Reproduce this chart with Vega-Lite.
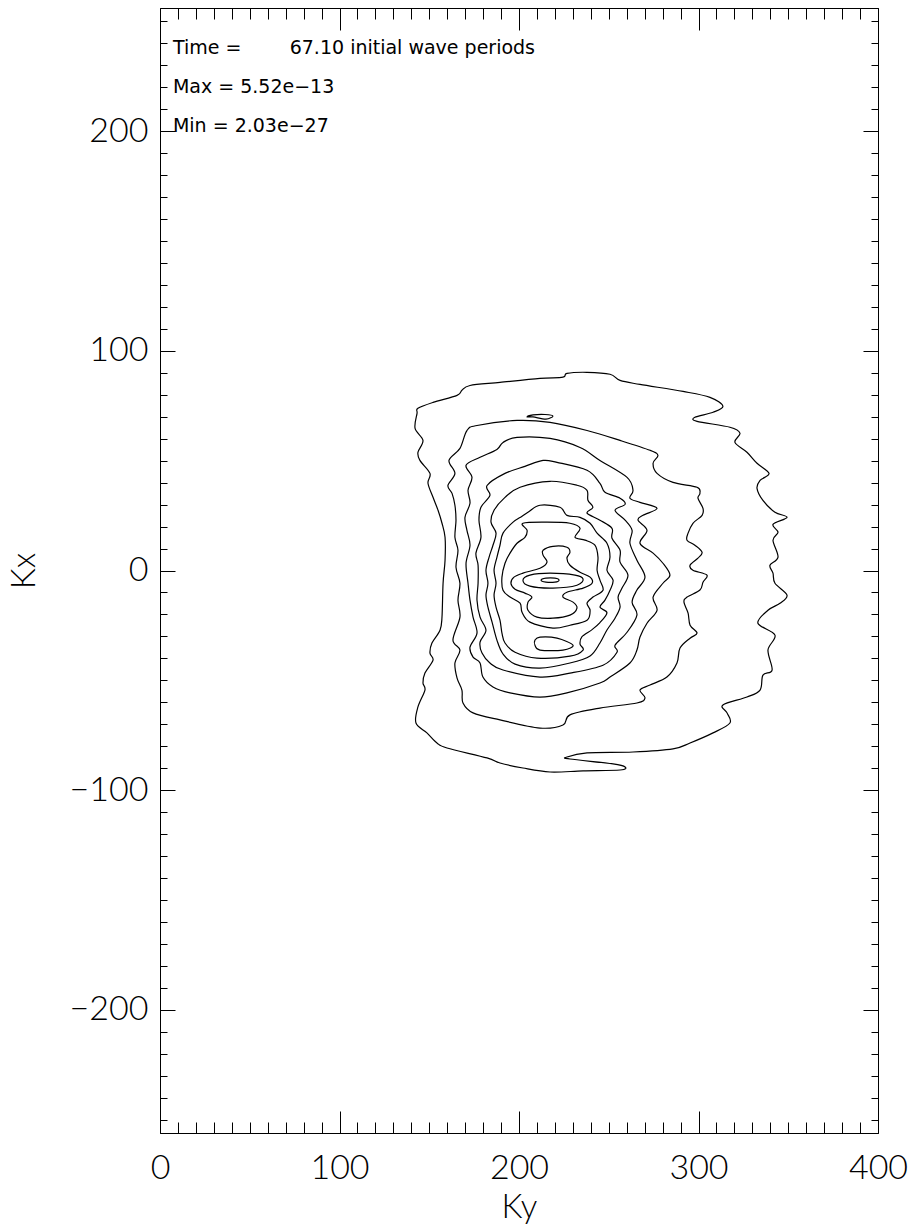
{
  "$schema": "https://vega.github.io/schema/vega-lite/v6.json",
  "width": 718,
  "height": 1125,
  "autosize": "none",
  "padding": {"left": 160, "top": 8, "right": 32, "bottom": 98},
  "background": "white",
  "config": {
    "view": {"stroke": "#000", "strokeWidth": 1},
    "axis": {
      "labelFont": "Lato", "labelFontWeight": 300, "labelFontSize": 34, "labelColor": "#000",
      "titleFont": "Lato", "titleFontWeight": 300, "titleFontSize": 33, "titleColor": "#000",
      "tickColor": "#000", "tickWidth": 1, "grid": false, "domain": false,
      "labelOverlap": false, "labelFlush": false
    }
  },
  "datasets": {
    "contours": [
      {"c":"L1","i":1,"ky":224.5,"kx":88.0},{"c":"L1","i":2,"ky":226.7,"kx":89.7},{"c":"L1","i":3,"ky":237.9,"kx":90.2},{"c":"L1","i":4,"ky":250.7,"kx":89.3},{"c":"L1","i":5,"ky":256.3,"kx":86.5},{"c":"L1","i":6,"ky":267.4,"kx":84.7},{"c":"L1","i":7,"ky":291.4,"kx":81.5},{"c":"L1","i":8,"ky":306.4,"kx":78.8},{"c":"L1","i":9,"ky":313.6,"kx":74.7},{"c":"L1","i":10,"ky":308.1,"kx":72.0},
      {"c":"L1","i":11,"ky":298.0,"kx":69.7},{"c":"L1","i":12,"ky":299.2,"kx":67.9},{"c":"L1","i":13,"ky":317.5,"kx":65.2},{"c":"L1","i":14,"ky":323.1,"kx":62.5},{"c":"L1","i":15,"ky":320.3,"kx":58.3},{"c":"L1","i":16,"ky":327.0,"kx":53.8},{"c":"L1","i":17,"ky":332.6,"kx":48.8},{"c":"L1","i":18,"ky":339.3,"kx":44.2},{"c":"L1","i":19,"ky":334.3,"kx":41.0},{"c":"L1","i":20,"ky":332.6,"kx":37.4},
      {"c":"L1","i":21,"ky":335.9,"kx":31.9},{"c":"L1","i":22,"ky":342.6,"kx":26.5},{"c":"L1","i":23,"ky":349.3,"kx":24.2},{"c":"L1","i":24,"ky":341.5,"kx":21.0},{"c":"L1","i":25,"ky":344.3,"kx":17.4},{"c":"L1","i":26,"ky":341.5,"kx":13.8},{"c":"L1","i":27,"ky":344.3,"kx":6.1},{"c":"L1","i":28,"ky":339.8,"kx":2.4},{"c":"L1","i":29,"ky":341.5,"kx":-1.2},{"c":"L1","i":30,"ky":342.6,"kx":-5.8},
      {"c":"L1","i":31,"ky":349.3,"kx":-11.2},{"c":"L1","i":32,"ky":345.4,"kx":-14.9},{"c":"L1","i":33,"ky":338.7,"kx":-18.1},{"c":"L1","i":34,"ky":333.1,"kx":-24.0},{"c":"L1","i":35,"ky":342.6,"kx":-29.4},{"c":"L1","i":36,"ky":338.7,"kx":-36.2},{"c":"L1","i":37,"ky":341.0,"kx":-45.3},{"c":"L1","i":38,"ky":335.9,"kx":-47.6},{"c":"L1","i":39,"ky":334.3,"kx":-54.4},{"c":"L1","i":40,"ky":327.0,"kx":-57.6},
      {"c":"L1","i":41,"ky":313.6,"kx":-61.2},{"c":"L1","i":42,"ky":315.9,"kx":-64.8},{"c":"L1","i":43,"ky":317.5,"kx":-69.4},{"c":"L1","i":44,"ky":308.1,"kx":-73.9},{"c":"L1","i":45,"ky":295.3,"kx":-78.5},{"c":"L1","i":46,"ky":285.8,"kx":-81.2},{"c":"L1","i":47,"ky":263.5,"kx":-82.6},{"c":"L1","i":48,"ky":237.9,"kx":-83.0},{"c":"L1","i":49,"ky":226.7,"kx":-84.9},{"c":"L1","i":50,"ky":228.4,"kx":-85.8},
      {"c":"L1","i":51,"ky":252.4,"kx":-88.0},{"c":"L1","i":52,"ky":259.1,"kx":-89.4},{"c":"L1","i":53,"ky":256.3,"kx":-90.8},{"c":"L1","i":54,"ky":235.7,"kx":-91.2},{"c":"L1","i":55,"ky":217.3,"kx":-91.7},{"c":"L1","i":56,"ky":202.2,"kx":-89.9},{"c":"L1","i":57,"ky":189.4,"kx":-87.6},{"c":"L1","i":58,"ky":182.2,"kx":-85.3},{"c":"L1","i":59,"ky":159.9,"kx":-80.8},{"c":"L1","i":60,"ky":154.3,"kx":-78.5},
      {"c":"L1","i":61,"ky":148.7,"kx":-73.9},{"c":"L1","i":62,"ky":142.6,"kx":-69.4},{"c":"L1","i":63,"ky":143.7,"kx":-62.1},{"c":"L1","i":64,"ky":147.6,"kx":-54.4},{"c":"L1","i":65,"ky":146.5,"kx":-51.2},{"c":"L1","i":66,"ky":147.6,"kx":-46.7},{"c":"L1","i":67,"ky":152.1,"kx":-40.8},{"c":"L1","i":68,"ky":150.4,"kx":-37.6},{"c":"L1","i":69,"ky":151.5,"kx":-33.0},{"c":"L1","i":70,"ky":156.0,"kx":-27.2},
      {"c":"L1","i":71,"ky":157.1,"kx":-21.2},{"c":"L1","i":72,"ky":157.7,"kx":-5.8},{"c":"L1","i":73,"ky":158.8,"kx":4.7},{"c":"L1","i":74,"ky":158.8,"kx":15.1},{"c":"L1","i":75,"ky":157.1,"kx":21.5},{"c":"L1","i":76,"ky":154.9,"kx":27.4},{"c":"L1","i":77,"ky":152.1,"kx":33.3},{"c":"L1","i":78,"ky":149.3,"kx":39.7},{"c":"L1","i":79,"ky":150.4,"kx":44.2},{"c":"L1","i":80,"ky":144.8,"kx":50.1},
      {"c":"L1","i":81,"ky":143.7,"kx":53.8},{"c":"L1","i":82,"ky":146.5,"kx":59.2},{"c":"L1","i":83,"ky":142.1,"kx":64.7},{"c":"L1","i":84,"ky":143.2,"kx":71.5},{"c":"L1","i":85,"ky":143.7,"kx":73.8},{"c":"L1","i":86,"ky":152.1,"kx":76.5},{"c":"L1","i":87,"ky":165.5,"kx":79.7},{"c":"L1","i":88,"ky":168.2,"kx":82.0},{"c":"L1","i":89,"ky":172.7,"kx":84.2},{"c":"L1","i":90,"ky":189.4,"kx":85.6},{"c":"L1","i":91,"ky":211.7,"kx":87.4},

      {"c":"I1","i":1,"ky":204.5,"kx":69.9},{"c":"I1","i":2,"ky":207.8,"kx":70.8},{"c":"I1","i":3,"ky":214.5,"kx":71.0},{"c":"I1","i":4,"ky":218.9,"kx":70.3},{"c":"I1","i":5,"ky":215.0,"kx":68.9},{"c":"I1","i":6,"ky":207.8,"kx":69.9},

      {"c":"C2","i":1,"ky":171.0,"kx":63.7},{"c":"C2","i":2,"ky":176.6,"kx":66.0},{"c":"C2","i":3,"ky":198.9,"kx":68.3},{"c":"C2","i":4,"ky":217.3,"kx":67.4},{"c":"C2","i":5,"ky":237.9,"kx":63.7},{"c":"C2","i":6,"ky":256.3,"kx":59.2},{"c":"C2","i":7,"ky":273.0,"kx":54.7},{"c":"C2","i":8,"ky":277.4,"kx":52.4},{"c":"C2","i":9,"ky":274.7,"kx":48.8},{"c":"C2","i":10,"ky":276.9,"kx":44.2},
      {"c":"C2","i":11,"ky":285.8,"kx":40.1},{"c":"C2","i":12,"ky":299.2,"kx":37.9},{"c":"C2","i":13,"ky":300.8,"kx":35.1},{"c":"C2","i":14,"ky":299.7,"kx":32.9},{"c":"C2","i":15,"ky":302.5,"kx":28.3},{"c":"C2","i":16,"ky":302.0,"kx":25.1},{"c":"C2","i":17,"ky":296.9,"kx":21.5},{"c":"C2","i":18,"ky":294.2,"kx":17.0},{"c":"C2","i":19,"ky":293.6,"kx":13.8},{"c":"C2","i":20,"ky":298.0,"kx":11.5},
      {"c":"C2","i":21,"ky":302.0,"kx":8.3},{"c":"C2","i":22,"ky":299.7,"kx":5.6},{"c":"C2","i":23,"ky":295.3,"kx":2.4},{"c":"C2","i":24,"ky":296.9,"kx":0.1},{"c":"C2","i":25,"ky":304.7,"kx":-2.1},{"c":"C2","i":26,"ky":302.5,"kx":-5.3},{"c":"C2","i":27,"ky":300.8,"kx":-8.9},{"c":"C2","i":28,"ky":293.6,"kx":-12.1},{"c":"C2","i":29,"ky":291.9,"kx":-14.4},{"c":"C2","i":30,"ky":294.2,"kx":-19.4},
      {"c":"C2","i":31,"ky":295.3,"kx":-24.9},{"c":"C2","i":32,"ky":299.2,"kx":-28.5},{"c":"C2","i":33,"ky":295.3,"kx":-30.8},{"c":"C2","i":34,"ky":289.7,"kx":-35.3},{"c":"C2","i":35,"ky":288.0,"kx":-42.1},{"c":"C2","i":36,"ky":282.4,"kx":-48.5},{"c":"C2","i":37,"ky":273.0,"kx":-52.1},{"c":"C2","i":38,"ky":267.4,"kx":-54.4},{"c":"C2","i":39,"ky":270.2,"kx":-58.0},{"c":"C2","i":40,"ky":265.7,"kx":-60.3},
      {"c":"C2","i":41,"ky":245.1,"kx":-62.6},{"c":"C2","i":42,"ky":228.4,"kx":-65.7},{"c":"C2","i":43,"ky":224.5,"kx":-70.3},{"c":"C2","i":44,"ky":211.7,"kx":-71.7},{"c":"C2","i":45,"ky":189.4,"kx":-68.0},{"c":"C2","i":46,"ky":174.4,"kx":-64.8},{"c":"C2","i":47,"ky":168.8,"kx":-60.3},{"c":"C2","i":48,"ky":168.2,"kx":-54.4},{"c":"C2","i":49,"ky":165.5,"kx":-49.0},{"c":"C2","i":50,"ky":164.3,"kx":-42.1},
      {"c":"C2","i":51,"ky":167.1,"kx":-36.2},{"c":"C2","i":52,"ky":163.2,"kx":-31.6},{"c":"C2","i":53,"ky":167.1,"kx":-21.2},{"c":"C2","i":54,"ky":166.0,"kx":-13.5},{"c":"C2","i":55,"ky":167.1,"kx":-5.8},{"c":"C2","i":56,"ky":164.9,"kx":1.5},{"c":"C2","i":57,"ky":166.0,"kx":9.2},{"c":"C2","i":58,"ky":164.3,"kx":15.1},{"c":"C2","i":59,"ky":164.9,"kx":22.9},{"c":"C2","i":60,"ky":164.3,"kx":29.7},
      {"c":"C2","i":61,"ky":162.7,"kx":35.1},{"c":"C2","i":62,"ky":160.4,"kx":38.7},{"c":"C2","i":63,"ky":164.3,"kx":44.2},{"c":"C2","i":64,"ky":161.0,"kx":50.1},{"c":"C2","i":65,"ky":167.1,"kx":55.6},

      {"c":"C3","i":1,"ky":191.1,"kx":58.3},{"c":"C3","i":2,"ky":198.9,"kx":60.6},{"c":"C3","i":3,"ky":217.3,"kx":60.1},{"c":"C3","i":4,"ky":234.0,"kx":56.0},{"c":"C3","i":5,"ky":245.1,"kx":50.1},{"c":"C3","i":6,"ky":260.2,"kx":42.4},{"c":"C3","i":7,"ky":263.5,"kx":36.5},{"c":"C3","i":8,"ky":261.8,"kx":32.9},{"c":"C3","i":9,"ky":267.4,"kx":31.0},{"c":"C3","i":10,"ky":276.9,"kx":28.3},
      {"c":"C3","i":11,"ky":269.1,"kx":25.1},{"c":"C3","i":12,"ky":266.3,"kx":22.9},{"c":"C3","i":13,"ky":271.3,"kx":18.3},{"c":"C3","i":14,"ky":267.4,"kx":12.4},{"c":"C3","i":15,"ky":274.7,"kx":7.9},{"c":"C3","i":16,"ky":280.2,"kx":3.3},{"c":"C3","i":17,"ky":284.1,"kx":-2.1},{"c":"C3","i":18,"ky":280.2,"kx":-5.8},{"c":"C3","i":19,"ky":274.7,"kx":-12.1},{"c":"C3","i":20,"ky":276.9,"kx":-18.1},
      {"c":"C3","i":21,"ky":271.3,"kx":-24.0},{"c":"C3","i":22,"ky":267.4,"kx":-30.3},{"c":"C3","i":23,"ky":265.7,"kx":-36.2},{"c":"C3","i":24,"ky":261.8,"kx":-42.1},{"c":"C3","i":25,"ky":250.7,"kx":-48.5},{"c":"C3","i":26,"ky":245.1,"kx":-51.2},{"c":"C3","i":27,"ky":226.7,"kx":-55.7},{"c":"C3","i":28,"ky":211.7,"kx":-57.6},{"c":"C3","i":29,"ky":195.0,"kx":-55.7},{"c":"C3","i":30,"ky":185.5,"kx":-53.0},
      {"c":"C3","i":31,"ky":179.9,"kx":-48.5},{"c":"C3","i":32,"ky":178.3,"kx":-42.1},{"c":"C3","i":33,"ky":174.4,"kx":-39.4},{"c":"C3","i":34,"ky":172.7,"kx":-34.9},{"c":"C3","i":35,"ky":176.6,"kx":-28.5},{"c":"C3","i":36,"ky":174.4,"kx":-21.2},{"c":"C3","i":37,"ky":172.7,"kx":-13.5},{"c":"C3","i":38,"ky":171.6,"kx":-5.8},{"c":"C3","i":39,"ky":170.5,"kx":3.3},{"c":"C3","i":40,"ky":172.7,"kx":11.5},
      {"c":"C3","i":41,"ky":171.0,"kx":18.3},{"c":"C3","i":42,"ky":169.9,"kx":24.2},{"c":"C3","i":43,"ky":172.7,"kx":30.6},{"c":"C3","i":44,"ky":171.6,"kx":36.5},{"c":"C3","i":45,"ky":173.8,"kx":42.4},{"c":"C3","i":46,"ky":170.5,"kx":47.9},{"c":"C3","i":47,"ky":178.3,"kx":51.5},{"c":"C3","i":48,"ky":187.7,"kx":55.1},

      {"c":"C4","i":1,"ky":213.4,"kx":50.1},{"c":"C4","i":2,"ky":221.2,"kx":49.2},{"c":"C4","i":3,"ky":237.9,"kx":45.6},{"c":"C4","i":4,"ky":245.1,"kx":39.7},{"c":"C4","i":5,"ky":247.9,"kx":35.6},{"c":"C4","i":6,"ky":256.3,"kx":32.9},{"c":"C4","i":7,"ky":259.1,"kx":30.1},{"c":"C4","i":8,"ky":253.5,"kx":27.4},{"c":"C4","i":9,"ky":259.1,"kx":22.9},{"c":"C4","i":10,"ky":263.0,"kx":18.3},
      {"c":"C4","i":11,"ky":261.8,"kx":12.4},{"c":"C4","i":12,"ky":265.7,"kx":4.7},{"c":"C4","i":13,"ky":270.2,"kx":-3.0},{"c":"C4","i":14,"ky":265.7,"kx":-8.9},{"c":"C4","i":15,"ky":263.0,"kx":-14.4},{"c":"C4","i":16,"ky":265.7,"kx":-20.3},{"c":"C4","i":17,"ky":260.2,"kx":-28.1},{"c":"C4","i":18,"ky":253.5,"kx":-34.0},{"c":"C4","i":19,"ky":254.6,"kx":-37.2},{"c":"C4","i":20,"ky":246.8,"kx":-43.1},
      {"c":"C4","i":21,"ky":228.4,"kx":-46.7},{"c":"C4","i":22,"ky":211.7,"kx":-48.5},{"c":"C4","i":23,"ky":191.1,"kx":-45.3},{"c":"C4","i":24,"ky":183.8,"kx":-42.1},{"c":"C4","i":25,"ky":179.4,"kx":-37.6},{"c":"C4","i":26,"ky":178.3,"kx":-32.6},{"c":"C4","i":27,"ky":181.6,"kx":-27.2},{"c":"C4","i":28,"ky":178.3,"kx":-21.2},{"c":"C4","i":29,"ky":176.6,"kx":-13.5},{"c":"C4","i":30,"ky":177.2,"kx":-5.8},
      {"c":"C4","i":31,"ky":177.2,"kx":2.4},{"c":"C4","i":32,"ky":176.0,"kx":7.9},{"c":"C4","i":33,"ky":178.8,"kx":15.1},{"c":"C4","i":34,"ky":177.7,"kx":22.9},{"c":"C4","i":35,"ky":178.8,"kx":28.8},{"c":"C4","i":36,"ky":183.8,"kx":34.2},{"c":"C4","i":37,"ky":182.2,"kx":38.7},{"c":"C4","i":38,"ky":192.2,"kx":44.2},{"c":"C4","i":39,"ky":203.3,"kx":47.4},

      {"c":"C5","i":1,"ky":200.6,"kx":37.9},{"c":"C5","i":2,"ky":217.3,"kx":40.6},{"c":"C5","i":3,"ky":232.3,"kx":38.8},{"c":"C5","i":4,"ky":237.9,"kx":36.5},{"c":"C5","i":5,"ky":238.4,"kx":32.0},{"c":"C5","i":6,"ky":241.2,"kx":28.8},{"c":"C5","i":7,"ky":237.9,"kx":26.1},{"c":"C5","i":8,"ky":245.1,"kx":22.9},{"c":"C5","i":9,"ky":251.8,"kx":19.2},{"c":"C5","i":10,"ky":251.8,"kx":14.7},
      {"c":"C5","i":11,"ky":256.3,"kx":9.2},{"c":"C5","i":12,"ky":256.3,"kx":3.8},{"c":"C5","i":13,"ky":260.7,"kx":-2.1},{"c":"C5","i":14,"ky":257.4,"kx":-8.0},{"c":"C5","i":15,"ky":255.2,"kx":-12.1},{"c":"C5","i":16,"ky":256.3,"kx":-16.7},{"c":"C5","i":17,"ky":253.5,"kx":-21.7},{"c":"C5","i":18,"ky":249.0,"kx":-27.1},{"c":"C5","i":19,"ky":245.1,"kx":-33.0},{"c":"C5","i":20,"ky":239.6,"kx":-38.9},
      {"c":"C5","i":21,"ky":228.4,"kx":-42.1},{"c":"C5","i":22,"ky":211.7,"kx":-44.4},{"c":"C5","i":23,"ky":197.8,"kx":-42.6},{"c":"C5","i":24,"ky":191.1,"kx":-38.0},{"c":"C5","i":25,"ky":187.7,"kx":-31.7},{"c":"C5","i":26,"ky":185.0,"kx":-23.5},{"c":"C5","i":27,"ky":182.7,"kx":-16.7},{"c":"C5","i":28,"ky":181.6,"kx":-11.2},{"c":"C5","i":29,"ky":182.7,"kx":-5.8},{"c":"C5","i":30,"ky":181.6,"kx":0.1},
      {"c":"C5","i":31,"ky":183.3,"kx":6.0},{"c":"C5","i":32,"ky":185.5,"kx":11.5},{"c":"C5","i":33,"ky":187.2,"kx":17.0},{"c":"C5","i":34,"ky":184.4,"kx":22.0},{"c":"C5","i":35,"ky":186.1,"kx":27.4},{"c":"C5","i":36,"ky":192.2,"kx":33.3},

      {"c":"C6","i":1,"ky":205.0,"kx":26.5},{"c":"C6","i":2,"ky":211.7,"kx":29.7},{"c":"C6","i":3,"ky":222.8,"kx":28.8},{"c":"C6","i":4,"ky":226.7,"kx":25.1},{"c":"C6","i":5,"ky":234.0,"kx":24.2},{"c":"C6","i":6,"ky":239.6,"kx":21.5},{"c":"C6","i":7,"ky":243.5,"kx":17.0},{"c":"C6","i":8,"ky":249.0,"kx":12.4},{"c":"C6","i":9,"ky":250.7,"kx":6.1},{"c":"C6","i":10,"ky":249.0,"kx":0.1},
      {"c":"C6","i":11,"ky":252.4,"kx":-4.4},{"c":"C6","i":12,"ky":250.7,"kx":-9.0},{"c":"C6","i":13,"ky":247.9,"kx":-13.5},{"c":"C6","i":14,"ky":245.1,"kx":-16.7},{"c":"C6","i":15,"ky":249.0,"kx":-19.2},{"c":"C6","i":16,"ky":245.1,"kx":-23.7},{"c":"C6","i":17,"ky":240.7,"kx":-26.9},{"c":"C6","i":18,"ky":235.1,"kx":-30.1},{"c":"C6","i":19,"ky":234.0,"kx":-33.5},{"c":"C6","i":20,"ky":235.7,"kx":-36.2},
      {"c":"C6","i":21,"ky":228.4,"kx":-39.0},{"c":"C6","i":22,"ky":210.0,"kx":-39.9},{"c":"C6","i":23,"ky":197.8,"kx":-37.2},{"c":"C6","i":24,"ky":192.2,"kx":-33.0},{"c":"C6","i":25,"ky":190.5,"kx":-28.5},{"c":"C6","i":26,"ky":189.4,"kx":-22.6},{"c":"C6","i":27,"ky":187.2,"kx":-16.7},{"c":"C6","i":28,"ky":186.1,"kx":-11.2},{"c":"C6","i":29,"ky":187.2,"kx":-5.8},{"c":"C6","i":30,"ky":186.1,"kx":0.1},
      {"c":"C6","i":31,"ky":187.7,"kx":6.0},{"c":"C6","i":32,"ky":189.4,"kx":11.5},{"c":"C6","i":33,"ky":191.1,"kx":17.0},{"c":"C6","i":34,"ky":196.7,"kx":22.0},{"c":"C6","i":35,"ky":201.7,"kx":24.7},

      {"c":"I2","i":1,"ky":208.9,"kx":-31.7},{"c":"I2","i":2,"ky":211.7,"kx":-30.3},{"c":"I2","i":3,"ky":221.2,"kx":-30.8},{"c":"I2","i":4,"ky":230.1,"kx":-34.0},{"c":"I2","i":5,"ky":224.5,"kx":-36.2},{"c":"I2","i":6,"ky":211.7,"kx":-36.2},{"c":"I2","i":7,"ky":208.9,"kx":-34.0},

      {"c":"C7","i":1,"ky":202.2,"kx":21.5},{"c":"C7","i":2,"ky":215.6,"kx":22.0},{"c":"C7","i":3,"ky":228.4,"kx":21.5},{"c":"C7","i":4,"ky":234.0,"kx":19.2},{"c":"C7","i":5,"ky":231.2,"kx":15.1},{"c":"C7","i":6,"ky":236.8,"kx":13.8},{"c":"C7","i":7,"ky":242.3,"kx":11.5},{"c":"C7","i":8,"ky":244.0,"kx":6.1},{"c":"C7","i":9,"ky":243.5,"kx":0.1},{"c":"C7","i":10,"ky":245.1,"kx":-4.4},
      {"c":"C7","i":11,"ky":246.8,"kx":-9.0},{"c":"C7","i":12,"ky":241.2,"kx":-12.1},{"c":"C7","i":13,"ky":237.9,"kx":-14.9},{"c":"C7","i":14,"ky":239.6,"kx":-18.1},{"c":"C7","i":15,"ky":237.9,"kx":-22.6},{"c":"C7","i":16,"ky":228.4,"kx":-24.9},{"c":"C7","i":17,"ky":218.9,"kx":-26.2},{"c":"C7","i":18,"ky":206.1,"kx":-23.5},{"c":"C7","i":19,"ky":201.7,"kx":-19.0},{"c":"C7","i":20,"ky":200.6,"kx":-14.9},
      {"c":"C7","i":21,"ky":195.0,"kx":-12.1},{"c":"C7","i":22,"ky":191.1,"kx":-9.0},{"c":"C7","i":23,"ky":190.5,"kx":-3.0},{"c":"C7","i":24,"ky":192.2,"kx":3.3},{"c":"C7","i":25,"ky":195.0,"kx":7.9},{"c":"C7","i":26,"ky":198.9,"kx":12.4},{"c":"C7","i":27,"ky":203.3,"kx":15.1},{"c":"C7","i":28,"ky":204.5,"kx":18.3},

      {"c":"K3","i":1,"ky":213.4,"kx":9.2},{"c":"K3","i":2,"ky":218.9,"kx":11.0},{"c":"K3","i":3,"ky":226.7,"kx":10.6},{"c":"K3","i":4,"ky":228.4,"kx":8.3},{"c":"K3","i":5,"ky":226.7,"kx":5.6},{"c":"K3","i":6,"ky":228.4,"kx":2.4},{"c":"K3","i":7,"ky":234.0,"kx":-0.8},{"c":"K3","i":8,"ky":239.6,"kx":-3.0},{"c":"K3","i":9,"ky":240.7,"kx":-5.8},{"c":"K3","i":10,"ky":235.7,"kx":-8.0},
      {"c":"K3","i":11,"ky":226.7,"kx":-9.9},{"c":"K3","i":12,"ky":224.5,"kx":-12.1},{"c":"K3","i":13,"ky":230.1,"kx":-14.4},{"c":"K3","i":14,"ky":232.3,"kx":-17.1},{"c":"K3","i":15,"ky":228.4,"kx":-20.3},{"c":"K3","i":16,"ky":218.9,"kx":-21.7},{"c":"K3","i":17,"ky":210.0,"kx":-21.2},{"c":"K3","i":18,"ky":205.0,"kx":-18.1},{"c":"K3","i":19,"ky":205.0,"kx":-14.4},{"c":"K3","i":20,"ky":207.2,"kx":-12.1},
      {"c":"K3","i":21,"ky":203.3,"kx":-10.3},{"c":"K3","i":22,"ky":197.8,"kx":-8.5},{"c":"K3","i":23,"ky":195.5,"kx":-5.8},{"c":"K3","i":24,"ky":197.2,"kx":-3.0},{"c":"K3","i":25,"ky":202.2,"kx":-1.2},{"c":"K3","i":26,"ky":211.7,"kx":1.0},{"c":"K3","i":27,"ky":215.6,"kx":3.8},{"c":"K3","i":28,"ky":213.4,"kx":7.0},

      {"c":"K2","i":1,"ky":202.2,"kx":-4.4},{"c":"K2","i":2,"ky":206.1,"kx":-2.1},{"c":"K2","i":3,"ky":217.3,"kx":-1.2},{"c":"K2","i":4,"ky":231.2,"kx":-2.1},{"c":"K2","i":5,"ky":235.7,"kx":-3.9},{"c":"K2","i":6,"ky":232.3,"kx":-6.7},{"c":"K2","i":7,"ky":218.9,"kx":-8.0},{"c":"K2","i":8,"ky":206.1,"kx":-7.1},

      {"c":"K1","i":1,"ky":212.3,"kx":-4.4},{"c":"K1","i":2,"ky":215.0,"kx":-3.5},{"c":"K1","i":3,"ky":220.0,"kx":-3.5},{"c":"K1","i":4,"ky":222.3,"kx":-4.4},{"c":"K1","i":5,"ky":220.0,"kx":-5.3},{"c":"K1","i":6,"ky":215.0,"kx":-5.3}
    ],
    "notes": [
      {"text": ["Time =\u00a0\u00a0\u00a0\u00a0\u00a0\u00a0\u00a0\u00a067.10 initial wave periods", "Max = 5.52e\u221213", "Min = 2.03e\u221227"]}
    ]
  },
  "layer": [
    {
      "data": {"name": "contours"},
      "mark": {"type": "line", "interpolate": "cardinal-closed", "stroke": "#000", "strokeWidth": 1.2},
      "encoding": {
        "x": {
          "field": "ky", "type": "quantitative",
          "scale": {"domain": [0, 400], "nice": false, "zero": false},
          "axis": {
            "orient": "bottom", "title": "Ky", "titlePadding": 6,
            "values": [0,10,20,30,40,50,60,70,80,90,100,110,120,130,140,150,160,170,180,190,200,210,220,230,240,250,260,270,280,290,300,310,320,330,340,350,360,370,380,390,400],
            "tickSize": -11,
            "labelExpr": "datum.value % 100 === 0 ? datum.label : ''",
            "labelPadding": 29
          }
        },
        "y": {
          "field": "kx", "type": "quantitative",
          "scale": {"domain": [-256, 256], "nice": false, "zero": false},
          "axis": {
            "orient": "left", "title": "Kx", "titlePadding": 28,
            "values": [-250,-240,-230,-220,-210,-200,-190,-180,-170,-160,-150,-140,-130,-120,-110,-100,-90,-80,-70,-60,-50,-40,-30,-20,-10,0,10,20,30,40,50,60,70,80,90,100,110,120,130,140,150,160,170,180,190,200,210,220,230,240,250],
            "tickSize": -7,
            "labelExpr": "datum.value % 100 === 0 ? datum.label : ''",
            "labelPadding": 19
          }
        },
        "detail": {"field": "c", "type": "nominal"},
        "order": {"field": "i", "type": "quantitative"}
      }
    },
    {
      "data": {"name": "notes"},
      "mark": {"type": "text", "align": "left", "baseline": "alphabetic", "font": "DejaVu Sans", "fontSize": 19, "lineHeight": 39, "color": "#000"},
      "encoding": {
        "x": {
          "datum": 7.2, "type": "quantitative",
          "scale": {"domain": [0, 400], "nice": false, "zero": false},
          "axis": {
            "orient": "top", "title": null, "labels": false,
            "values": [0,10,20,30,40,50,60,70,80,90,100,110,120,130,140,150,160,170,180,190,200,210,220,230,240,250,260,270,280,290,300,310,320,330,340,350,360,370,380,390,400],
            "tickSize": -11
          }
        },
        "y": {
          "datum": 235.1, "type": "quantitative",
          "scale": {"domain": [-256, 256], "nice": false, "zero": false},
          "axis": {
            "orient": "right", "title": null, "labels": false,
            "values": [-250,-240,-230,-220,-210,-200,-190,-180,-170,-160,-150,-140,-130,-120,-110,-100,-90,-80,-70,-60,-50,-40,-30,-20,-10,0,10,20,30,40,50,60,70,80,90,100,110,120,130,140,150,160,170,180,190,200,210,220,230,240,250],
            "tickSize": -7
          }
        },
        "text": {"field": "text"}
      }
    },
    {
      "data": {"name": "notes"},
      "mark": {"type": "text", "opacity": 0},
      "encoding": {
        "x": {
          "datum": 7.2, "type": "quantitative",
          "scale": {"domain": [0, 400], "nice": false, "zero": false},
          "axis": {"orient": "bottom", "title": null, "labels": false, "values": [0,100,200,300,400], "tickSize": -22}
        },
        "y": {
          "datum": 235.1, "type": "quantitative",
          "scale": {"domain": [-256, 256], "nice": false, "zero": false},
          "axis": {"orient": "left", "title": null, "labels": false, "values": [-200,-100,0,100,200], "tickSize": -15}
        },
        "text": {"value": ""}
      }
    },
    {
      "data": {"name": "notes"},
      "mark": {"type": "text", "opacity": 0},
      "encoding": {
        "x": {
          "datum": 7.2, "type": "quantitative",
          "scale": {"domain": [0, 400], "nice": false, "zero": false},
          "axis": {"orient": "top", "title": null, "labels": false, "values": [0,100,200,300,400], "tickSize": -22}
        },
        "y": {
          "datum": 235.1, "type": "quantitative",
          "scale": {"domain": [-256, 256], "nice": false, "zero": false},
          "axis": {"orient": "right", "title": null, "labels": false, "values": [-200,-100,0,100,200], "tickSize": -15}
        },
        "text": {"value": ""}
      }
    }
  ],
  "resolve": {"axis": {"x": "independent", "y": "independent"}}
}
